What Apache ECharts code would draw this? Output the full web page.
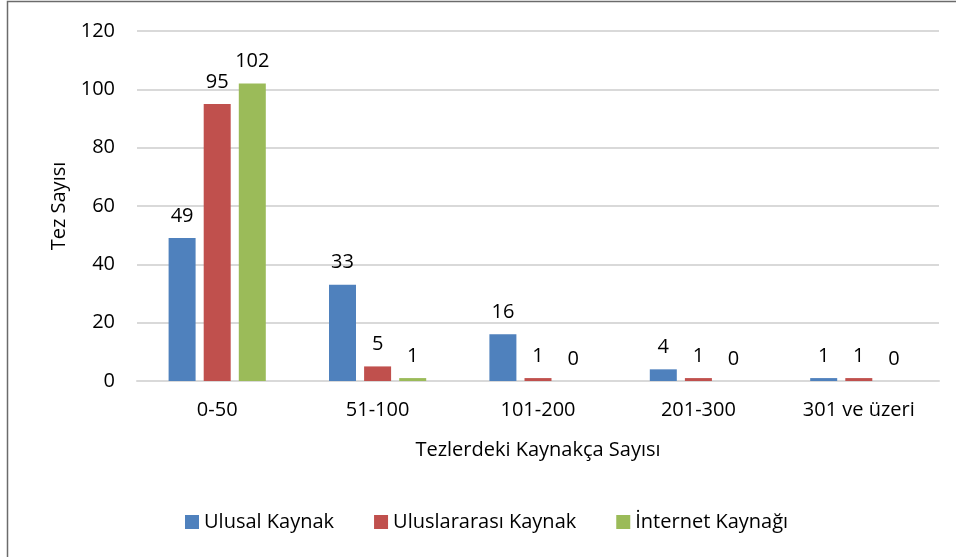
<!DOCTYPE html>
<html>
<head>
<meta charset="utf-8">
<script src="https://cdn.jsdelivr.net/npm/echarts@6/dist/echarts.min.js"></script>
<style>
html,body{margin:0;padding:0;background:#fff;}
#chart{width:956px;height:557px;}
</style>
</head>
<body>
<div id="chart"></div>
<script>
// kaynakça sayısı grupları
var categories = ['0-50', '51-100', '101-200', '201-300', '301 ve üzeri'];
var seriesNames = ['Ulusal Kaynak', 'Uluslararası Kaynak', 'İnternet Kaynağı'];
var ulusal = [49, 33, 16, 4, 1];
var uluslararasi = [95, 5, 1, 1, 1];
var internet = [102, 1, 0, 0, 0];
var colors = ['#4f81bd', '#c0504d', '#9bbb59'];

var fontName = 'Open Sans';
var fs = 20;

function makeSeries(name, data, color){
	return {
		name: name,
		type: 'bar',
		data: data,
		barWidth: 27,
		barGap: '30%',
		itemStyle: {color: color},
		label: {
			show: true,
			position: 'top',
			distance: 12,
			color: '#000',
			fontSize: fs,
			fontFamily: fontName
		}
	};
}

var option = {
	animation: false,
	color: colors,
	graphic: [{
		type: 'rect',
		shape: {x: 7.5, y: 1.5, width: 1200, height: 800},
		style: {fill: 'none', stroke: '#6b6b6b', lineWidth: 1.5},
		silent: true
	}],
	grid: {left: 137, right: 17, top: 31, bottom: 176},
	legend: {
		data: seriesNames,
		left: 180,
		top: 507,
		itemWidth: 14,
		itemHeight: 14,
		itemGap: 40,
		icon: 'rect',
		textStyle: {fontSize: fs, fontFamily: fontName, color: '#000'}
	},
	xAxis: {
		type: 'category',
		data: categories,
		name: 'Tezlerdeki Kaynakça Sayısı',
		nameLocation: 'middle',
		nameGap: 59,
		nameTextStyle: {fontSize: fs, fontFamily: fontName, color: '#000'},
		axisLine: {lineStyle: {color: '#d9d9d9', width: 2}},
		axisTick: {show: false},
		axisLabel: {fontSize: fs, fontFamily: fontName, color: '#000', margin: 19}
	},
	yAxis: {
		type: 'value',
		min: 0,
		max: 120,
		interval: 20,
		name: 'Tez Sayısı',
		nameLocation: 'middle',
		nameGap: 68,
		nameTextStyle: {fontSize: fs, fontFamily: fontName, color: '#000'},
		axisLine: {show: false},
		axisTick: {show: false},
		axisLabel: {fontSize: fs, fontFamily: fontName, color: '#000', margin: 22},
		splitLine: {lineStyle: {color: '#d9d9d9', width: 2}}
	},
	series: [
		makeSeries(seriesNames[0], ulusal, colors[0]),
		makeSeries(seriesNames[1], uluslararasi, colors[1]),
		makeSeries(seriesNames[2], internet, colors[2])
	]
};

var myChart = echarts.init(document.getElementById('chart'));
myChart.setOption(option);
</script>
</body>
</html>
